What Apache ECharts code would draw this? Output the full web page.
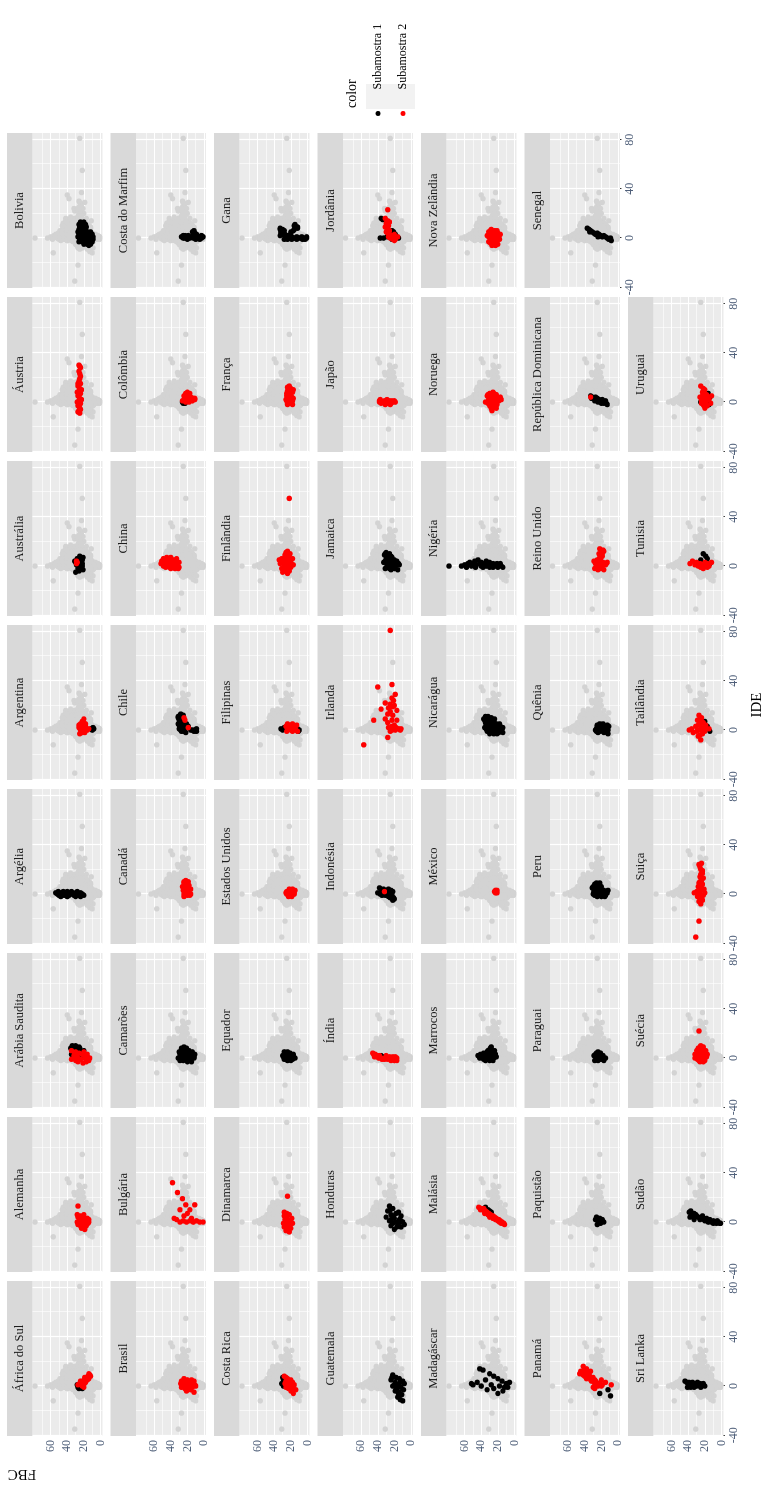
<!DOCTYPE html>
<html><head><meta charset="utf-8">
<script src="https://cdn.jsdelivr.net/npm/echarts@6/dist/echarts.min.js"></script>
<style>
html,body{margin:0;padding:0;background:#fff;overflow:hidden;width:763px;height:1486px;}
#chart{position:absolute;left:0;top:1486px;width:1486px;height:763px;transform:rotate(-90deg);transform-origin:0 0;}
</style></head><body><div id="chart"></div>
<script>
// facet order (ggplot facet_wrap, 8 per row)
const countries = ['África do Sul','Alemanha','Arábia Saudita','Argélia','Argentina','Austrália','Áustria','Bolivia',
'Brasil','Bulgária','Camarões','Canadá','Chile','China','Colômbia','Costa do Marfim',
'Costa Rica','Dinamarca','Equador','Estados Unidos','Filipinas','Finlândia','França','Gana',
'Guatemala','Honduras','Índia','Indonésia','Irlanda','Jamaica','Japão','Jordânia',
'Madagáscar','Malásia','Marrocos','México','Nicarágua','Nigéria','Noruega','Nova Zelândia',
'Panamá','Paquistão','Paraguai','Peru','Quênia','Reino Unido','República Dominicana','Senegal',
'Sri Lanka','Sudão','Suécia','Suiça','Tailândia','Tunisia','Uruguai'];

// Subamostra 1 points per country: [IDE, FBC]
const sub1 = [
/*África do Sul*/[[1,28],[0,26],[-1,24],[-2,22],[0,21],[-1,27],[1,23],[-2,26]],
/*Alemanha*/[],
/*Arábia Saudita*/[[10,34],[9,30],[8,36],[7,27],[6,32],[5,24],[4,29],[3,35],[2,22],[1,27],[0,32],[8,25],[6,20],[9,26],[7,33],[4,33],[2,30],[10,30]],
/*Argélia*/[[1,54],[0,52],[-1,50],[1,48],[0,46],[-1,44],[1,42],[0,40],[-1,38],[1,36],[0,34],[-1,32],[1,30],[0,28],[-1,26],[1,24],[0,22],[-1,20],[2,45],[2,35],[2,28],[-2,40],[-2,30],[2,51],[-2,48],[2,40],[-2,24]],
/*Argentina*/[[2,9],[1,11],[0,10],[1,8]],
/*Austrália*/[[8,25],[6,28],[5,22],[4,31],[3,25],[2,22],[1,29],[0,26],[-1,23],[-2,27],[-3,21],[-5,30],[7,21],[6,24],[4,27],[2,25],[0,22],[-2,24],[-4,26],[3,30],[5,27]],
/*Áustria*/[],
/*Bolivia*/[[13,20],[13,24],[11,18],[11,22],[11,26],[9,17],[9,21],[9,25],[7,18],[7,22],[7,26],[5,12],[5,16],[5,20],[5,24],[5,27],[3,10],[3,14],[3,18],[3,22],[3,26],[1,9],[1,13],[1,17],[1,21],[1,25],[1,27],[-1,9],[-1,13],[-1,17],[-1,21],[-1,25],[-3,10],[-3,14],[-3,18],[-3,22],[-3,26],[-5,12],[-5,16],[-5,20],[-6,14]],
/*Brasil*/[],
/*Bulgária*/[],
/*Camarões*/[[9,24],[8,21],[7,27],[6,18],[5,30],[4,24],[3,15],[2,28],[1,21],[0,31],[-1,17],[-2,25],[-3,20],[1,12],[3,11],[5,14],[-1,27],[7,22],[6,26],[4,19],[3,29],[2,24],[1,16],[0,26],[-1,22],[-2,29],[-3,15],[8,27],[0,12]],
/*Canadá*/[],
/*Chile*/[[13,28],[12,25],[11,31],[10,27],[8,30],[7,24],[6,29],[5,31],[4,26],[3,29],[2,22],[1,30],[0,25],[-1,27],[0,16],[-1,12],[1,9],[0,14],[3,19],[-2,22],[5,21],[12,29],[10,31],[9,26],[7,28],[4,30],[2,27],[0,28],[-1,24],[0,11],[-1,9]],
/*China*/[],
/*Colômbia*/[[-1,23],[0,26],[-1,25]],
/*Costa do Marfim*/[[1,27],[2,25],[0,23],[1,21],[2,19],[0,17],[1,15],[3,13],[6,12],[4,11],[1,9],[0,7],[1,5],[0,3],[1,1],[-1,10],[-1,20],[0,25],[0,13],[2,9],[-1,5],[2,3],[0,19],[2,23],[5,14],[3,9]],
/*Costa Rica*/[[7,30],[5,29],[2,31],[0,29]],
/*Dinamarca*/[],
/*Equador*/[[5,28],[4,24],[3,20],[2,30],[1,26],[0,22],[-1,18],[-1,28],[0,15],[2,17],[3,27],[4,21],[1,19],[-2,24],[4,27],[3,24],[2,21],[1,29],[0,27],[0,18],[-1,22],[-2,20],[5,24],[3,17]],
/*Estados Unidos*/[],
/*Filipinas*/[[1,32],[0,30],[2,28],[-1,11],[0,10],[1,12]],
/*Finlândia*/[],
/*França*/[],
/*Gana*/[[8,33],[7,30],[6,28],[5,32],[3,30],[2,27],[1,25],[0,22],[1,19],[0,16],[1,13],[0,10],[1,7],[0,4],[1,1],[-1,3],[10,16],[9,14],[8,12],[6,17],[4,20],[2,33],[-1,28],[7,33],[6,31],[4,32],[3,27],[2,24],[0,19],[0,13],[0,7],[0,1],[-1,6],[-1,13],[-1,19],[-1,24],[11,15],[9,12],[7,16],[5,20]],
/*Guatemala*/[[9,22],[7,18],[6,14],[5,24],[4,10],[3,19],[2,8],[1,15],[0,22],[-1,12],[-2,17],[-3,9],[-5,14],[-7,11],[-9,16],[-11,13],[-12,10],[7,23],[3,13],[1,20],[-1,18],[-4,19],[-6,15]],
/*Honduras*/[[13,26],[11,22],[9,28],[7,18],[6,24],[4,30],[3,20],[2,14],[1,26],[0,10],[0,18],[-1,22],[-2,8],[-3,16],[-4,12],[-6,20],[5,12],[8,15],[10,25],[5,21],[2,24],[1,12],[-1,15],[-3,24],[-4,17]],
/*Índia*/[[2,36],[1,34]],
/*Indonésia*/[[5,38],[4,33],[3,29],[2,36],[1,40],[0,32],[-1,27],[-2,23],[-3,21],[-5,22],[3,24],[-1,35],[1,30],[0,26],[2,22],[4,36],[3,34],[2,30],[1,35],[0,37],[0,29],[-1,31],[-2,27],[-3,25],[-4,20],[4,27],[1,24],[-1,23]],
/*Irlanda*/[],
/*Jamaica*/[[11,30],[10,26],[9,32],[8,28],[7,23],[6,30],[5,20],[4,27],[3,33],[2,24],[1,18],[0,29],[-1,22],[-2,26],[-3,16],[1,14],[3,19],[6,25],[-2,31],[10,31],[9,27],[8,24],[7,29],[5,26],[4,31],[3,22],[2,29],[1,25],[0,19],[0,24],[-1,27],[-2,20],[-3,24],[2,15],[4,17]],
/*Japão*/[],
/*Jordânia*/[[16,36],[15,34],[0,37],[0,33],[1,29],[6,23],[5,21],[3,19],[1,17],[0,15],[-1,23]],
/*Madagáscar*/[[14,42],[13,38],[10,30],[8,25],[6,20],[5,35],[4,15],[3,45],[2,10],[1,28],[0,40],[0,18],[-1,8],[-2,25],[-3,33],[-4,14],[-6,20],[1,50],[2,52],[-1,12],[3,6]],
/*Malásia*/[[12,35],[10,32],[9,30],[8,28]],
/*Marrocos*/[[9,28],[7,30],[6,27],[5,33],[4,37],[3,41],[2,44],[1,38],[0,34],[-1,30],[-2,26],[1,22],[3,23],[0,42],[-1,37],[2,29],[4,25],[8,29],[6,32],[5,28],[4,33],[3,36],[3,30],[2,39],[2,34],[1,42],[1,33],[1,27],[0,38],[0,30],[0,25],[-1,33],[-1,27],[-2,30],[-2,35],[2,24],[6,24]],
/*México*/[],
/*Nicarágua*/[[11,35],[10,31],[9,37],[8,28],[7,34],[6,25],[5,32],[4,22],[3,29],[2,36],[1,19],[0,26],[-1,16],[-2,23],[-3,30],[2,14],[5,18],[9,24],[0,33],[-2,14],[-1,20],[11,32],[10,35],[10,28],[9,33],[9,28],[8,36],[8,32],[7,29],[7,25],[6,35],[6,30],[5,27],[5,22],[4,34],[4,30],[4,18],[3,33],[3,24],[3,17],[2,31],[2,26],[2,20],[1,34],[1,28],[1,24],[1,15],[0,30],[0,21],[0,16],[-1,33],[-1,28],[-1,24],[-2,27],[-2,19],[-3,25],[-3,21]],
/*Nigéria*/[[0,79],[0,64],[1,60],[2,56],[3,54],[0,52],[2,50],[4,48],[1,46],[5,44],[2,42],[0,40],[1,38],[2,36],[0,34],[1,32],[-1,30],[0,28],[2,26],[1,24],[0,22],[-1,20],[1,18],[0,16],[-1,14],[3,30],[2,21],[-1,58],[-1,47],[-1,38],[3,40],[4,34],[-1,26],[2,17]],
/*Noruega*/[],
/*Nova Zelândia*/[[0,22]],
/*Panamá*/[[-6,22],[-8,9],[-3,12],[1,25]],
/*Paquistão*/[[4,26],[3,22],[2,19],[1,24],[0,17],[-1,21],[-2,25],[2,27],[0,22]],
/*Paraguai*/[[5,24],[4,21],[3,27],[2,18],[1,25],[0,15],[-1,22],[-2,28],[0,20],[2,29],[-2,17],[4,26],[3,23],[1,21],[0,26],[-1,19],[-2,24],[2,24]],
/*Peru*/[[9,26],[8,23],[7,28],[6,20],[5,31],[4,25],[3,17],[2,29],[1,22],[0,26],[-1,15],[-2,20],[-1,28],[1,13],[3,12],[9,22],[8,28],[7,24],[6,30],[6,26],[5,22],[4,29],[4,20],[3,26],[3,22],[2,25],[2,17],[1,29],[1,18],[0,22],[0,30],[0,15],[-1,24],[-2,25],[-2,16]],
/*Quênia*/[[5,22],[4,18],[3,25],[2,20],[1,15],[0,27],[-1,22],[-2,17],[-3,12],[0,12],[2,14],[-1,26],[3,11],[5,18],[4,25],[3,20],[2,24],[1,26],[1,19],[0,22],[0,16],[-1,18],[-2,24],[-2,13],[4,13]],
/*Reino Unido*/[],
/*República Dominicana*/[[5,33],[4,31],[3,29],[4,27],[3,25],[2,23],[1,21],[2,19],[0,17],[1,15],[-1,14],[-2,13],[0,24],[-1,20],[1,28],[3,32],[2,27],[0,21],[-1,17]],
/*Senegal*/[[8,37],[7,35],[6,33],[5,31],[4,29],[3,27],[4,25],[3,23],[2,21],[1,19],[2,17],[1,15],[0,13],[-1,11],[0,9],[-2,8],[1,24],[5,34]],
/*Sri Lanka*/[[4,44],[3,42],[2,40],[1,38],[0,36],[1,34],[2,32],[0,30],[1,28],[2,26],[0,24],[1,22],[0,20],[3,39],[-1,41],[-1,33],[3,29],[-1,25],[3,35],[-1,37],[2,22]],
/*Sudão*/[[9,37],[8,39],[6,36],[7,33],[5,30],[4,28],[3,25],[5,23],[2,21],[3,18],[1,16],[2,14],[0,12],[1,10],[0,8],[-1,6],[0,4],[-1,2],[-1,1],[4,38],[2,33],[6,31],[4,33],[2,26],[1,20],[0,16],[-1,10],[1,5]],
/*Suécia*/[],
/*Suiça*/[],
/*Tailândia*/[[7,20],[3,17],[-1,14]],
/*Tunisia*/[[10,22],[8,19],[6,17],[5,25],[2,14]],
/*Uruguai*/[[7,16],[4,14],[2,22],[0,25],[-2,15]]
];

// Subamostra 2 points per country: [IDE, FBC]
const sub2 = [
/*África do Sul*/[[10,14],[9,13],[8,15],[7,16],[6,18],[5,19],[4,21],[3,23],[2,25],[1,20],[0,22],[3,18],[6,14],[1,27],[8,12],[7,19],[5,16],[4,24],[2,20],[-1,20]],
/*Alemanha*/[[13,27],[6,28],[5,24],[4,20],[3,16],[2,25],[1,22],[0,18],[-1,26],[-2,21],[-3,17],[-5,23],[-6,19],[2,14],[6,20],[4,27],[0,28],[0,14],[-2,27],[-4,19],[3,21],[1,17],[-1,15],[-3,24]],
/*Arábia Saudita*/[[6,35],[5,30],[4,26],[3,22],[2,32],[1,28],[0,19],[-1,24],[-2,30],[-3,17],[-4,21],[-2,14],[3,16],[0,13],[-1,35],[4,31],[2,19],[1,16],[-3,27],[-1,29],[5,20]],
/*Argélia*/[],
/*Argentina*/[[9,20],[7,22],[5,24],[3,18],[2,26],[1,21],[0,16],[-1,23],[-2,19],[-3,25],[1,14],[3,22],[5,18],[4,26],[0,24],[-2,22],[6,20]],
/*Austrália*/[[4,29],[3,28],[2,29]],
/*Áustria*/[[30,26],[28,24],[25,26],[23,25],[19,25],[17,26],[15,24],[13,27],[11,25],[9,26],[7,24],[5,27],[3,25],[1,26],[-1,24],[-3,27],[-5,25],[-7,26],[-9,25],[2,23],[8,28],[29,25],[21,24],[15,27],[10,23],[6,26],[0,28],[-2,25],[-6,24],[-8,27]],
/*Bolivia*/[],
/*Brasil*/[[6,24],[5,20],[4,27],[3,17],[2,22],[1,14],[0,25],[-1,19],[-2,23],[-3,16],[-4,21],[-5,12],[2,28],[1,11],[5,15],[4,23],[3,26],[1,18],[-1,27],[-1,14],[-3,20],[0,10],[4,12]],
/*Bulgária*/[[32,38],[24,32],[19,26],[14,22],[10,29],[3,36],[10,17],[14,11],[0,29],[1,25],[0,21],[1,17],[0,13],[1,9],[0,5],[0,1],[5,24],[7,20],[3,15],[2,33]],
/*Camarões*/[],
/*Canadá*/[[11,22],[10,19],[9,24],[8,21],[7,18],[5,23],[4,20],[3,25],[2,18],[1,22],[0,16],[-1,20],[-2,24],[6,26],[10,24],[7,23],[4,16],[2,22],[0,24],[-1,17]],
/*Chile*/[[8,23],[10,24],[2,19]],
/*China*/[[7,45],[6,49],[5,42],[4,51],[3,38],[2,46],[1,33],[0,49],[-1,41],[-2,35],[3,30],[5,36],[6,40],[1,44],[2,52],[-1,30],[7,40],[6,44],[5,47],[4,46],[4,41],[3,48],[3,43],[2,40],[2,36],[1,49],[1,38],[0,44],[0,39],[0,34],[-1,46],[-2,40],[-2,31],[4,34],[6,33]],
/*Colômbia*/[[8,20],[7,22],[6,18],[5,24],[4,16],[3,13],[2,11],[1,26],[0,22],[3,20],[2,17],[1,14],[5,21],[0,18],[7,17],[4,23],[2,24],[1,20],[3,11],[6,22]],
/*Costa do Marfim*/[],
/*Costa Rica*/[[8,28],[6,24],[5,20],[4,26],[3,18],[2,22],[1,16],[0,25],[-1,19],[-2,23],[-3,14],[-4,20],[-6,17],[7,26],[4,22],[2,27],[0,21],[-2,17],[-1,26]],
/*Dinamarca*/[[21,24],[8,28],[6,22],[4,25],[3,19],[2,27],[1,21],[0,24],[-1,18],[-2,26],[-3,22],[-4,28],[-5,20],[-6,24],[-8,22],[7,25],[5,28],[1,25],[-1,29],[-4,24],[-7,26]],
/*Equador*/[],
/*Estados Unidos*/[[4,22],[3,18],[2,25],[1,20],[0,16],[-1,23],[-2,19],[1,26],[3,15],[0,21],[4,18],[2,21],[1,16],[-1,19],[-2,23],[0,25]],
/*Filipinas*/[[5,24],[4,20],[3,16],[2,22],[1,18],[0,14],[-1,25],[-1,12],[3,26],[4,13],[2,15],[0,20],[-1,18],[5,18]],
/*Finlândia*/[[55,22],[12,24],[10,21],[9,27],[7,23],[5,30],[4,26],[3,20],[2,33],[1,28],[0,24],[-1,20],[-2,31],[-3,26],[-4,22],[-6,24],[6,18],[1,17],[8,25],[3,29],[11,26],[9,22],[7,27],[6,31],[4,22],[2,24],[0,28],[0,21],[-2,25],[-4,27],[-5,30],[5,34]],
/*França*/[[13,22],[11,20],[9,24],[8,18],[6,22],[5,25],[4,19],[3,21],[2,26],[1,18],[0,23],[-1,20],[-2,24],[10,17],[12,24],[10,22],[7,20],[7,25],[4,23],[3,17],[1,25],[0,20],[-1,24],[-2,18]],
/*Gana*/[],
/*Guatemala*/[],
/*Honduras*/[],
/*Índia*/[[4,46],[3,43],[2,41],[1,44],[0,39],[-1,35],[0,31],[-1,28],[0,25],[1,22],[-2,20],[-1,18],[0,17],[2,30],[1,26],[-2,24],[3,45],[2,38],[1,41],[0,36],[-1,32],[0,28],[-1,24],[0,21],[1,19],[-2,17]],
/*Indonésia*/[[2,32]],
/*Irlanda*/[[81,25],[37,23],[35,40],[29,19],[26,23],[22,31],[20,20],[18,27],[17,36],[16,17],[15,25],[12,22],[9,31],[8,23],[8,45],[8,17],[6,28],[4,20],[2,27],[1,21],[1,15],[0,19],[-1,25],[-6,28],[-12,57],[0,13],[3,23],[21,25],[19,22],[24,21],[13,28],[2,18],[0,23],[1,12]],
/*Jamaica*/[],
/*Japão*/[[1,38],[0,35],[1,32],[-1,30],[0,28],[1,26],[-1,24],[0,22],[1,20],[0,19],[-1,36],[2,29],[-2,25],[0,33],[1,29],[-1,27],[0,25],[1,23],[2,37],[-2,31],[0,38]],
/*Jordânia*/[[23,28],[16,31],[14,28],[12,30],[10,27],[8,29],[6,26],[4,28],[2,24],[0,25],[-2,20],[-1,19],[3,20],[1,16],[13,26],[9,31],[7,28],[5,30],[3,26],[1,27],[-1,22]],
/*Madagáscar*/[],
/*Malásia*/[[12,43],[11,40],[10,38],[9,35],[8,33],[7,31],[6,29],[5,26],[4,24],[3,22],[2,19],[1,17],[0,15],[-1,13],[-2,12],[4,30],[7,36],[11,37],[10,41],[8,36],[6,32],[5,29],[3,26],[2,23],[1,20],[0,18],[-1,16]],
/*Marrocos*/[],
/*México*/[[1,23],[2,22],[3,23],[2,24],[1,21],[3,21]],
/*Nicarágua*/[],
/*Nigéria*/[],
/*Noruega*/[[8,26],[7,30],[6,22],[5,33],[4,27],[3,19],[2,31],[1,24],[0,35],[-1,28],[-2,21],[-3,30],[-4,25],[-5,22],[-7,27],[4,17],[2,16],[7,25],[6,28],[5,24],[4,31],[4,22],[3,27],[2,23],[1,30],[1,19],[0,26],[-1,32],[-1,22],[-2,27],[-3,24],[-5,28],[6,32]],
/*Nova Zelândia*/[[7,28],[6,24],[5,31],[4,20],[3,27],[2,33],[1,23],[0,29],[-1,18],[-2,25],[-3,31],[-4,22],[-6,27],[-5,20],[3,17],[6,21],[6,29],[5,26],[4,25],[3,22],[2,28],[2,19],[1,31],[0,25],[0,19],[-1,28],[-2,22],[-3,26],[-4,29],[-5,24],[-6,23]],
/*Panamá*/[[16,42],[14,38],[12,45],[11,40],[10,36],[9,42],[8,34],[7,30],[6,38],[5,28],[4,32],[3,26],[2,22],[1,19],[0,24],[-1,30],[1,8],[3,15],[5,20],[-2,28],[10,46],[12,33],[13,41],[11,35],[9,38],[8,40],[7,35],[5,33],[4,27],[2,28],[0,20]],
/*Paquistão*/[],
/*Paraguai*/[],
/*Peru*/[],
/*Quênia*/[],
/*Reino Unido*/[[14,22],[12,20],[10,23],[8,19],[6,21],[5,25],[4,29],[3,18],[2,27],[1,15],[0,24],[-1,20],[-2,28],[-3,17],[1,22],[3,13],[13,18],[12,17],[10,19],[9,21],[7,22],[5,21],[4,25],[3,22],[2,20],[1,26],[0,19],[-1,24],[-2,21],[-3,24],[2,14]],
/*República Dominicana*/[[4,33]],
/*Senegal*/[],
/*Sri Lanka*/[],
/*Sudão*/[],
/*Suécia*/[[22,27],[10,25],[9,22],[8,28],[7,24],[6,30],[5,20],[4,26],[3,32],[2,22],[1,18],[0,28],[-1,24],[-2,20],[-3,26],[1,31],[3,17],[6,19],[9,26],[7,28],[6,23],[5,27],[4,22],[3,28],[2,26],[1,23],[0,20],[0,32],[-1,29],[-2,27],[-3,22]],
/*Suiça*/[[25,24],[22,26],[19,23],[16,25],[13,22],[10,26],[8,23],[6,28],[4,21],[3,25],[2,30],[1,33],[0,26],[-1,22],[-2,29],[-4,24],[-6,27],[-8,25],[-22,27],[-35,31],[1,20],[24,27],[20,25],[17,23],[14,26],[11,24],[9,27],[7,25],[5,24],[2,26],[-1,27],[-3,26],[-5,23]],
/*Tailândia*/[[12,27],[10,24],[8,29],[6,22],[5,26],[4,19],[3,31],[2,24],[1,15],[0,27],[-1,20],[-2,34],[-3,23],[-5,28],[-8,25],[0,39],[1,36],[9,26],[7,24],[4,28],[2,20],[0,22],[-1,30],[-4,26]],
/*Tunisia*/[[4,35],[3,30],[2,26],[1,23],[0,20],[-1,17],[1,32],[0,28],[-2,22],[2,38],[0,15],[3,12],[3,20],[1,27],[-1,25],[2,17]],
/*Uruguai*/[[13,25],[10,20],[8,23],[6,18],[4,26],[3,21],[2,15],[1,24],[0,19],[-1,13],[-2,22],[-3,17],[-5,20],[5,12],[11,22],[7,21],[5,23],[3,17],[1,20],[-1,24],[-3,21]]
];

const ideTicks = [-40, 0, 40, 80];
const ideMinor = [-20, 20, 60];
const fbcTicks = [0, 20, 40, 60];
const fbcMinor = [10, 30, 50, 70];
const ideRange = [-40.6, 85.4];
const fbcRange = [-2.5, 82];
const seriesNames = ['Subamostra 1', 'Subamostra 2'];

// ---- layout (original landscape frame, rotated by CSS) ----
const L = {cols: 8, left: 50, pitchX: 164, panelW: 155, top: 7, pitchY: 103.5, stripH: 25.5, plotH: 70};
const FONT = '"Liberation Serif","Times New Roman",serif';
const PT = 5.4;
const TICK_TEXT = '#50607A';

const allPts = [].concat(...sub1, ...sub2);

const grids = [], xAxes = [], yAxes = [], series = [], graphics = [];
countries.forEach((name, k) => {
  const i = Math.floor(k / L.cols), j = k % L.cols;
  const left = L.left + j * L.pitchX;
  const stripTop = L.top + i * L.pitchY;
  const plotTop = stripTop + L.stripH;
  const isBottom = k + L.cols >= countries.length;
  const isLeft = j === 0;
  grids.push({left: left, top: plotTop, width: L.panelW, height: L.plotH, show: true,
    backgroundColor: '#EBEBEB', borderWidth: 0});
  xAxes.push({gridIndex: k, type: 'value', min: ideRange[0], max: ideRange[1],
    axisLine: {show: false}, splitLine: {show: false},
    axisTick: {show: isBottom, customValues: ideTicks, length: 3.5, lineStyle: {color: '#333', width: 1}},
    axisLabel: {show: isBottom, customValues: ideTicks, margin: 4, color: TICK_TEXT, fontFamily: FONT, fontSize: 12}});
  yAxes.push({gridIndex: k, type: 'value', min: fbcRange[0], max: fbcRange[1],
    axisLine: {show: false}, splitLine: {show: false},
    axisTick: {show: isLeft, customValues: fbcTicks, length: 3.5, lineStyle: {color: '#333', width: 1}},
    axisLabel: {show: isLeft, customValues: fbcTicks, margin: 4, color: TICK_TEXT, fontFamily: FONT, fontSize: 12}});
  graphics.push({type: 'rect', silent: true, z: 0, shape: {x: left, y: stripTop, width: L.panelW, height: L.stripH}, style: {fill: '#D9D9D9'}});
  graphics.push({type: 'text', silent: true, z: 1, x: left + L.panelW / 2, y: stripTop + L.stripH / 2,
    style: {text: name, fill: '#1A1A1A', font: '12.5px ' + FONT, align: 'center', verticalAlign: 'middle'}});
  const lines = [];
  const minorStyle = {color: '#FFFFFF', width: 0.6, type: 'solid'};
  const majorStyle = {color: '#FFFFFF', width: 1.2, type: 'solid'};
  ideMinor.forEach(v => lines.push({xAxis: v, lineStyle: minorStyle}));
  fbcMinor.forEach(v => lines.push({yAxis: v, lineStyle: minorStyle}));
  ideTicks.forEach(v => lines.push({xAxis: v, lineStyle: majorStyle}));
  fbcTicks.forEach(v => lines.push({yAxis: v, lineStyle: majorStyle}));
  series.push({type: 'scatter', xAxisIndex: k, yAxisIndex: k, data: [], silent: true, z: 1,
    markLine: {silent: true, z: 1, symbol: ['none', 'none'], label: {show: false}, animation: false, emphasis: {disabled: true}, data: lines}});
  series.push({name: 'all', type: 'scatter', xAxisIndex: k, yAxisIndex: k, data: allPts, z: 3, silent: true,
    symbolSize: PT, itemStyle: {color: '#D3D3D3', opacity: 1}});
  series.push({name: seriesNames[0], type: 'scatter', xAxisIndex: k, yAxisIndex: k, data: sub1[k], z: 4, silent: true,
    symbolSize: PT, itemStyle: {color: '#000000', opacity: 1}});
  series.push({name: seriesNames[1], type: 'scatter', xAxisIndex: k, yAxisIndex: k, data: sub2[k], z: 4, silent: true,
    symbolSize: PT, itemStyle: {color: '#FF0000', opacity: 1}});
});

// legend key background and titles
graphics.push({type: 'rect', silent: true, z: 0, shape: {x: 1377, y: 366, width: 25, height: 49}, style: {fill: '#F2F2F2'}});
graphics.push({type: 'text', silent: true, x: 1378, y: 352, style: {text: 'color', fill: '#000', font: '14px ' + FONT, align: 'left', verticalAlign: 'middle'}});
graphics.push({type: 'text', silent: true, x: 781, y: 757, style: {text: 'IDE', fill: '#000', font: '15px ' + FONT, align: 'center', verticalAlign: 'middle'}});
graphics.push({type: 'text', silent: true, x: 12, y: 22, rotation: Math.PI / 2, style: {text: 'FBC', fill: '#000', font: '15px ' + FONT, align: 'center', verticalAlign: 'middle'}});

const chart = echarts.init(document.getElementById('chart'), null, {renderer: 'canvas'});
chart.setOption({
  animation: false,
  backgroundColor: '#FFFFFF',
  grid: grids, xAxis: xAxes, yAxis: yAxes, series: series,
  legend: {data: seriesNames, orient: 'vertical', left: 1370, top: 372, padding: 0,
    itemWidth: 38, itemHeight: 5, itemGap: 13, icon: 'circle', selectedMode: false,
    itemStyle: {opacity: 1},
    textStyle: {fontFamily: FONT, fontSize: 12, color: '#000', lineHeight: 12}},
  graphic: {elements: graphics}
});
</script></body></html>
